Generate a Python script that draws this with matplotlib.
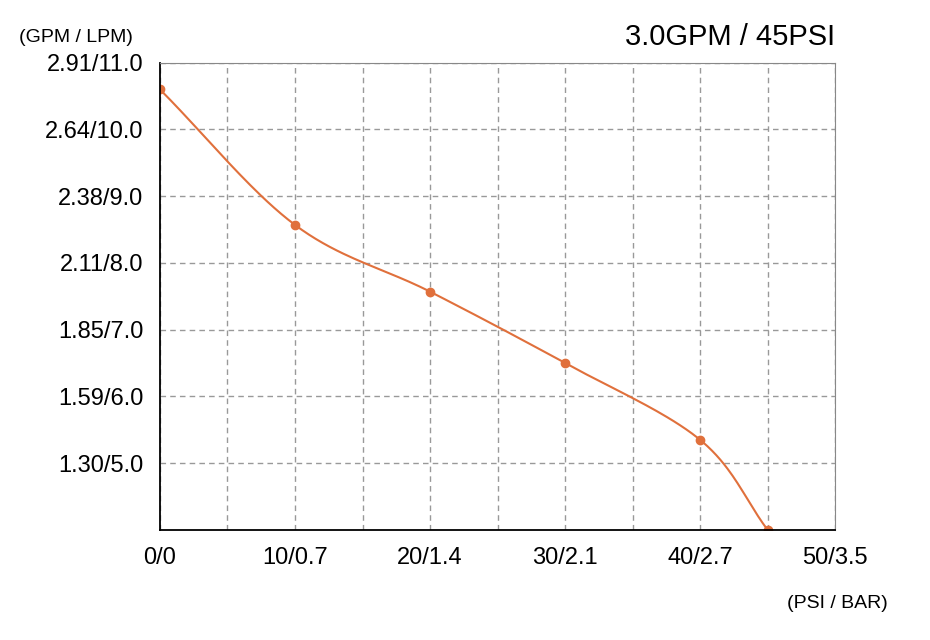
import numpy as np
import matplotlib
matplotlib.use("Agg")
import matplotlib.pyplot as plt

plt.rcParams['font.family'] = ['Liberation Sans', 'DejaVu Sans']

psi = [0, 10, 20, 30, 40, 45]
lpm = [10.6, 8.57, 7.57, 6.5, 5.35, 4.0]
xtick_vals = [0, 10, 20, 30, 40, 50]
xtick_labels = ["0/0", "10/0.7", "20/1.4", "30/2.1", "40/2.7", "50/3.5"]
ytick_vals = [5, 6, 7, 8, 9, 10, 11]
ytick_labels = ["1.30/5.0", "1.59/6.0", "1.85/7.0", "2.11/8.0", "2.38/9.0", "2.64/10.0", "2.91/11.0"]

def catmull(x, y, n=40):
    x = np.asarray(x, float); y = np.asarray(y, float)
    px = np.concatenate([[2*x[0]-x[1]], x, [2*x[-1]-x[-2]]])
    py = np.concatenate([[2*y[0]-y[1]], y, [2*y[-1]-y[-2]]])
    ox, oy = [], []
    t = np.linspace(0, 1, n)
    for i in range(1, len(px)-2):
        for P, out in ((px, ox), (py, oy)):
            p0, p1, p2, p3 = P[i-1], P[i], P[i+1], P[i+2]
            out.extend(0.5*((2*p1) + (-p0+p2)*t + (2*p0-5*p1+4*p2-p3)*t**2 + (-p0+3*p1-3*p2+p3)*t**3))
    return ox, oy

color = "#E0703C"
fig = plt.figure(figsize=(9.3, 6.4), dpi=100)
ax = fig.add_axes([0.172, 0.172, 0.726, 0.73])
cx, cy = catmull(psi, lpm)
ax.plot(cx, cy, color=color, lw=1.5)
ax.plot(psi, lpm, "o", color=color, ms=6)
ax.set_xlim(0, 50); ax.set_ylim(4, 11)
ax.set_xticks(xtick_vals)
ax.set_xticklabels(xtick_labels, fontsize=17)
ax.set_xticks(np.arange(5, 50, 10), minor=True)
ax.set_yticks(ytick_vals)
ax.set_yticklabels(ytick_labels, fontsize=17)
ax.tick_params(length=0, pad=12, which="both")
ax.grid(True, which="both", ls=(0, (4, 3)), color="#999999", lw=1)
for s in ["top", "right"]:
    ax.spines[s].set_color("#888888")
for s in ["left", "bottom"]:
    ax.spines[s].set_color("black"); ax.spines[s].set_linewidth(1.3)
fig.text(0.02, 0.935, "(GPM / LPM)", fontsize=14)
fig.text(0.898, 0.93, "3.0GPM / 45PSI", fontsize=21, ha="right")
fig.text(0.955, 0.05, "(PSI / BAR)", fontsize=14, ha="right")
fig.savefig("out.png")
